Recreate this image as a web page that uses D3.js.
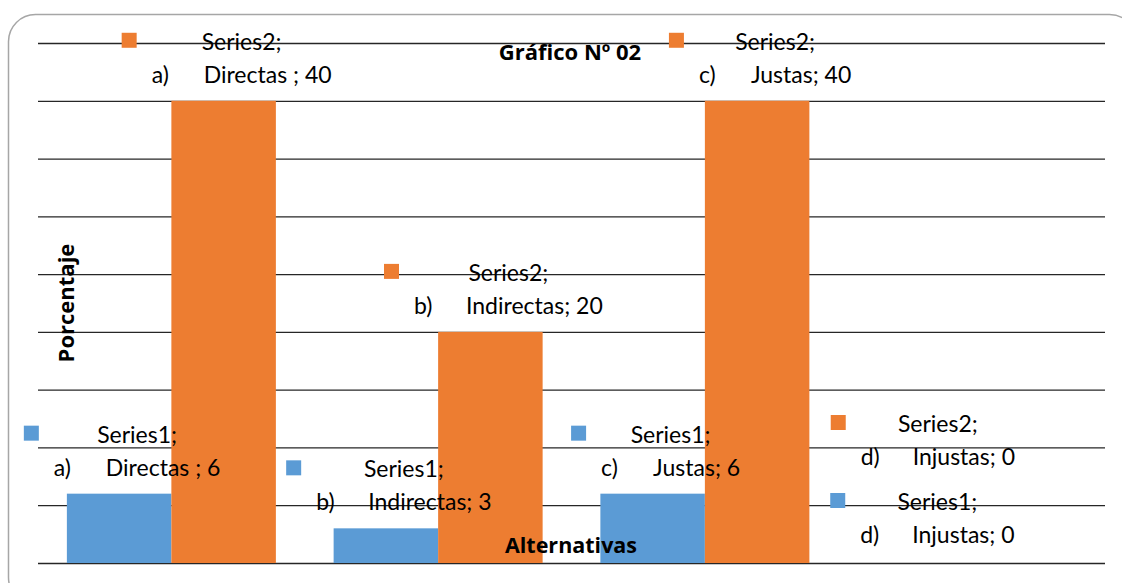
<!DOCTYPE html>
<html>
<head>
<meta charset="utf-8">
<script src="https://cdn.jsdelivr.net/npm/d3@7"></script>
<style>
  body { margin: 0; background: #fff; }
  svg { display: block; }
</style>
</head>
<body>
<svg id="chart" width="1122" height="583"></svg>
<script>
// ---- data ----
const categoryLetters = ["a)", "b)", "c)", "d)"];
const categoryNames = ["Directas ", "Indirectas", "Justas", "Injustas"];
const seriesNames = ["Series1", "Series2"];
const series1 = [6, 3, 6, 0];
const series2 = [40, 20, 40, 0];
const yTicks = [0, 5, 10, 15, 20, 25, 30, 35, 40, 45];

// ---- look & layout ----
const colors = ["#5B9BD5", "#ED7D31"];
const FONT = "Lato, 'Open Sans', sans-serif";
const BOLD_FONT = "'Open Sans', Lato, sans-serif";
const plot = { left: 38, right: 1105, top: 43, bottom: 563 };
// hand-placed data labels that were dragged away from their default spot
const labelNudges = [
  { s: 1, c: 3, dx: -104, dy: -80 },
  { s: 0, c: 3, dx: 0, dy: -2 }
];

const svg = d3.select("#chart");
const allSeries = [series1, series2];

// chart frame (runs past the right and bottom edges of the view)
svg.append("rect")
  .attr("x", 8.5).attr("y", 14.5)
  .attr("width", 1128).attr("height", 590)
  .attr("rx", 27).attr("ry", 27)
  .attr("fill", "#fff")
  .attr("stroke", "#a6a6a6")
  .attr("stroke-width", 1.5);

const y = d3.scaleLinear().domain([0, 45]).range([plot.bottom, plot.top]);
const x0 = d3.scaleBand()
  .domain(d3.range(categoryLetters.length))
  .range([plot.left, plot.right])
  .paddingInner(0.2165)
  .paddingOuter(0.10825);
const x1 = d3.scaleBand().domain([0, 1]).range([0, x0.bandwidth()]);

// horizontal gridlines
const grid = svg.append("g")
  .attr("transform", `translate(${plot.left},0)`)
  .call(d3.axisLeft(y).tickValues(yTicks).tickSize(-(plot.right - plot.left)).tickFormat(""));
grid.select(".domain").remove();
grid.selectAll(".tick line").attr("stroke", "#262626").attr("stroke-width", 1.3);

// bars
allSeries.forEach((vals, s) => {
  svg.append("g")
    .selectAll("rect")
    .data(vals)
    .join("rect")
    .attr("x", (d, i) => x0(i) + x1(s))
    .attr("y", d => y(d))
    .attr("width", x1.bandwidth())
    .attr("height", d => y(0) - y(d))
    .attr("fill", colors[s]);
});

// title and axis titles
svg.append("text")
  .attr("x", 570).attr("y", 60)
  .attr("text-anchor", "middle")
  .attr("font-family", BOLD_FONT).attr("font-weight", "bold").attr("font-size", 22)
  .attr("fill", "#000")
  .text("Gráfico Nº 02");

svg.append("text")
  .attr("transform", "translate(74,303) rotate(-90)")
  .attr("text-anchor", "middle")
  .attr("font-family", BOLD_FONT).attr("font-weight", "bold").attr("font-size", 22)
  .attr("fill", "#000")
  .text("Porcentaje");

svg.append("text")
  .attr("x", 571).attr("y", 553)
  .attr("text-anchor", "middle")
  .attr("font-family", BOLD_FONT).attr("font-weight", "bold").attr("font-size", 21.5)
  .attr("fill", "#000")
  .text("Alternativas");

// data labels: legend key, series name, category and value
const labels = svg.append("g")
  .attr("font-family", FONT).attr("font-size", 23).attr("fill", "#000");

allSeries.forEach((vals, s) => {
  vals.forEach((v, i) => {
    const nudge = labelNudges.find(n => n.s === s && n.c === i) || { dx: 0, dy: 0 };
    const cx = x0(i) + x1(s) + x1.bandwidth() / 2 + 18 + nudge.dx;
    const ty = y(v) + nudge.dy;
    const g = labels.append("g");

    g.append("text")
      .attr("x", cx).attr("y", ty - 51)
      .attr("text-anchor", "middle")
      .text(seriesNames[s] + ";");

    const line2 = g.append("text").attr("y", ty - 18);
    const letter = line2.append("tspan").text(categoryLetters[i]);
    const name = line2.append("tspan").text(categoryNames[i] + "; " + v);
    const tab = 52;
    const w = tab + name.node().getComputedTextLength();
    const start = cx - w / 2;
    letter.attr("x", start);
    name.attr("x", start + tab);

    g.append("rect")
      .attr("x", start - 30).attr("y", ty - 68)
      .attr("width", 15).attr("height", 15)
      .attr("fill", colors[s]);
  });
});
</script>
</body>
</html>
